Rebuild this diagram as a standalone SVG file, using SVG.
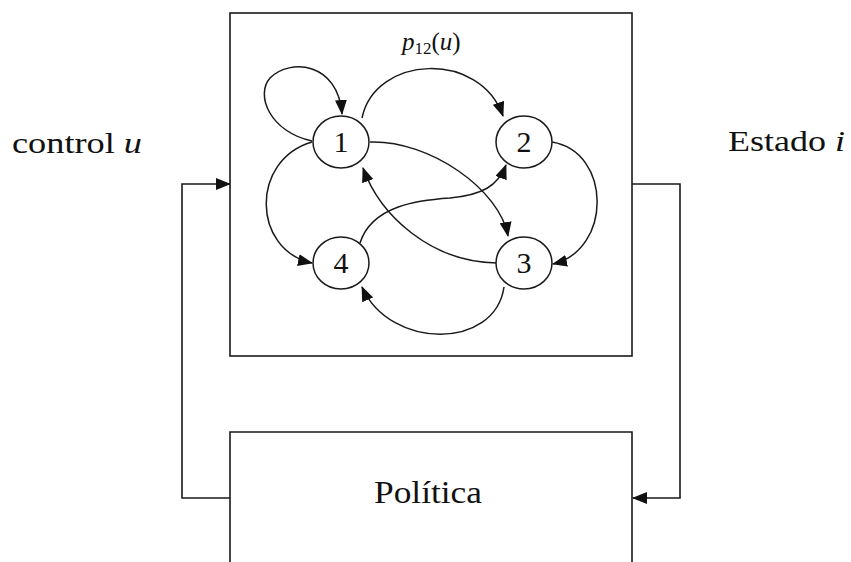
<svg xmlns="http://www.w3.org/2000/svg" width="851" height="562" viewBox="0 0 851 562">
<style>
.box{fill:none;stroke:#1a1a1a;stroke-width:1.6}
.node{fill:#fff;stroke:#1a1a1a;stroke-width:1.5}
.edge{fill:none;stroke:#1a1a1a;stroke-width:1.5;marker-end:url(#ah)}
.wire{fill:none;stroke:#1a1a1a;stroke-width:1.6}
.t{font-family:"Liberation Serif","DejaVu Serif",serif;fill:#111}
.lbl{font-size:30px;text-anchor:middle}
</style>
<defs>
<marker id="ah" markerUnits="userSpaceOnUse" markerWidth="15" markerHeight="12" viewBox="0 0 15 12" refX="14" refY="6" orient="auto">
<path d="M0,0 L15,6 L0,12 Z" fill="#111"/>
</marker>
</defs>
<g id="sistema"><rect class="box" x="230" y="13" width="402" height="343"/></g>
<g id="politica"><path class="box" d="M230,570 V432 H632 V570"/>
<text class="t" x="374" y="503" font-size="31" textLength="108" lengthAdjust="spacingAndGlyphs">Política</text></g>
<g id="labels">
<text class="t" x="12" y="153" font-size="30" textLength="130" lengthAdjust="spacingAndGlyphs">control <tspan font-style="italic">u</tspan></text>
<text class="t" x="728" y="151" font-size="30" textLength="117" lengthAdjust="spacingAndGlyphs">Estado <tspan font-style="italic">i</tspan></text>
<text class="t" x="402" y="50" font-size="25"><tspan font-style="italic">p</tspan><tspan font-size="17" dy="4">12</tspan><tspan dy="-4">(</tspan><tspan font-style="italic">u</tspan>)</text>
</g>
<g id="connectors">
<path class="wire" d="M230,498 H182 V184 H230" style="marker-end:url(#ah)"/>
<path class="wire" d="M632,184 H680 V498 H633" style="marker-end:url(#ah)"/>
<path class="edge" d="M312,141 C270,132 255,95 270,78 C290,58 338,62 342,114"/>
<path class="edge" d="M362,118 C375,55 480,50 503,116"/>
<path class="edge" d="M370,142 C430,140 500,190 508,236"/>
<path class="edge" d="M497,263 C430,262 380,215 363,168"/>
<path class="edge" d="M360,243 C372,205 420,200 450,198 C482,195 498,186 506,165"/>
<path class="edge" d="M312,142 C250,160 252,250 312,263"/>
<path class="edge" d="M552,142 C612,152 612,250 553,264"/>
<path class="edge" d="M504,287 C495,350 390,350 362,287"/>
</g>
<g id="n1"><ellipse class="node" cx="341" cy="142" rx="28" ry="26"/><text class="t lbl" x="341" y="152">1</text></g>
<g id="n2"><ellipse class="node" cx="524" cy="142" rx="28" ry="26"/><text class="t lbl" x="524" y="152">2</text></g>
<g id="n3"><ellipse class="node" cx="524" cy="263" rx="28" ry="26"/><text class="t lbl" x="524" y="273">3</text></g>
<g id="n4"><ellipse class="node" cx="341" cy="263" rx="28" ry="26"/><text class="t lbl" x="341" y="273">4</text></g>
</svg>
